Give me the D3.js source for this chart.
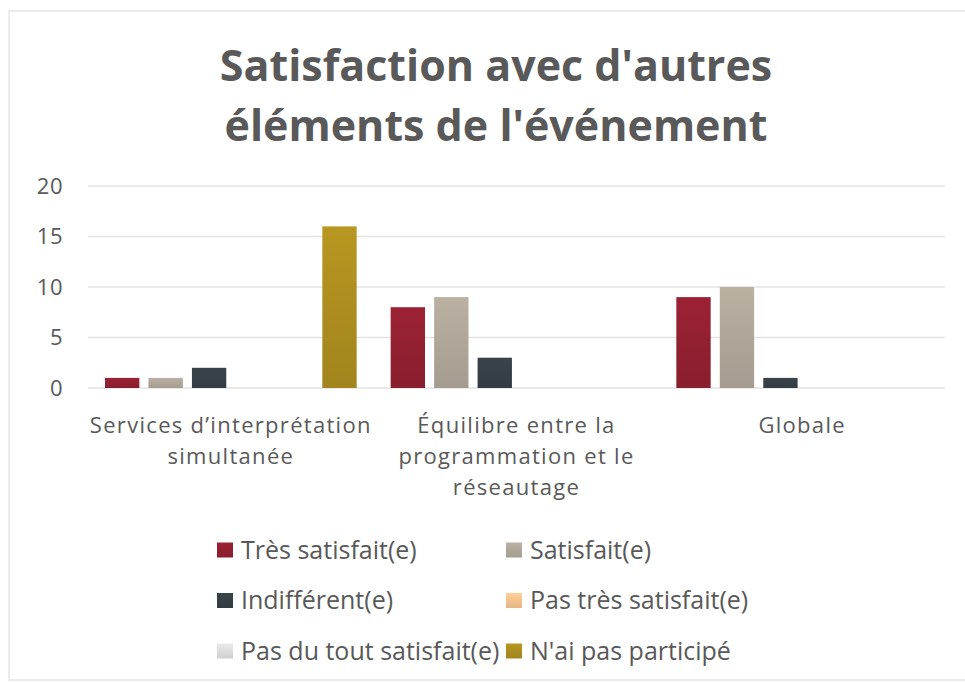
<!DOCTYPE html>
<html><head><meta charset="utf-8">
<script src="https://cdn.jsdelivr.net/npm/d3@7"></script>
<style>body{margin:0;background:#fff;} svg{display:block;}</style>
</head><body>
<svg id="chart" width="965" height="683"></svg>
<script>
(function(){
const titleLines = ["Satisfaction avec d'autres", "éléments de l'événement"];
const categories = [
  ["Services d’interprétation", "simultanée"],
  ["Équilibre entre la", "programmation et le", "réseautage"],
  ["Globale"]
];
const seriesNames = ["Très satisfait(e)", "Satisfait(e)", "Indifférent(e)", "Pas très satisfait(e)", "Pas du tout satisfait(e)", "N'ai pas participé"];
const seriesColors = ["#8e1f30", "#aaa295", "#343e44", "#ecbd8a", "#d6d6d6", "#a8891e"];
const values = [
  [1, 8, 9],
  [1, 9, 10],
  [2, 3, 1],
  [0, 0, 0],
  [0, 0, 0],
  [16, 0, 0]
];
const yTicks = [0, 5, 10, 15, 20];

const svg = d3.select("#chart");
const font = "'Open Sans', sans-serif";
const textCol = "#595959";

svg.append("rect").attr("x", 9).attr("y", 11).attr("width", 965).attr("height", 669)
  .attr("fill", "none").attr("stroke", "#e6e6e6").attr("stroke-width", 1.5);

const defs = svg.append("defs");
seriesColors.forEach((c, i) => {
  const g = defs.append("linearGradient").attr("id", "g" + i).attr("x1", 0).attr("y1", 0).attr("x2", 0).attr("y2", 1);
  g.append("stop").attr("offset", "0%").attr("stop-color", d3.color(c).brighter(0.25));
  g.append("stop").attr("offset", "100%").attr("stop-color", d3.color(c).darker(0.1));
});

svg.append("text").attr("x", 496).attr("text-anchor", "middle")
  .attr("font-family", "'Open Sans', sans-serif").attr("font-weight", 700).attr("font-size", 43)
  .attr("fill", textCol)
  .selectAll("tspan").data(titleLines).join("tspan")
  .attr("x", 496).attr("y", (d, i) => 81 + i * 60).text(d => d);

const pLeft = 88, pRight = 945, pTop = 186, pBottom = 388;
const y = d3.scaleLinear().domain([0, 20]).range([pBottom, pTop]);
const x0 = d3.scaleBand().domain(d3.range(categories.length)).range([pLeft, pRight]).paddingInner(0).paddingOuter(0);
const x1 = d3.scaleBand().domain(d3.range(seriesNames.length)).range([17, x0.bandwidth() - 17]).paddingInner(0.21).paddingOuter(0);

svg.append("g").selectAll("line").data(yTicks).join("line")
  .attr("x1", pLeft).attr("x2", pRight).attr("y1", d => y(d)).attr("y2", d => y(d))
  .attr("stroke", "#e3e3e3").attr("stroke-width", 1.5);

const yAxis = d3.axisLeft(y).tickValues(yTicks).tickSize(0).tickPadding(0);
const ya = svg.append("g").attr("transform", `translate(63,0)`).call(yAxis);
ya.select(".domain").remove();
ya.selectAll("text").attr("font-family", font).attr("font-size", 22).attr("letter-spacing", 0.5).attr("fill", textCol);

const groups = svg.append("g").selectAll("g").data(categories).join("g")
  .attr("transform", (d, i) => `translate(${x0(i)},0)`);
groups.selectAll("rect").data((d, ci) => seriesNames.map((s, si) => ({si, v: values[si][ci]})).filter(o => o.v > 0))
  .join("rect")
  .attr("x", d => x1(d.si)).attr("width", x1.bandwidth())
  .attr("y", d => y(d.v)).attr("height", d => y(0) - y(d.v))
  .attr("fill", d => `url(#g${d.si})`);

const xl = svg.append("g");
categories.forEach((lines, i) => {
  const t = xl.append("text").attr("text-anchor", "middle").attr("font-family", font)
    .attr("font-size", 22).attr("letter-spacing", 1.3).attr("fill", textCol);
  lines.forEach((ln, j) => {
    t.append("tspan").attr("x", x0(i) + x0.bandwidth() / 2).attr("y", 433 + j * 31).text(ln);
  });
});

const legPos = seriesNames.map((s, i) => ({x: i % 2 === 0 ? 217 : 506, y: 550 + Math.floor(i / 2) * 50.5}));
const lg = svg.append("g").selectAll("g").data(seriesNames).join("g")
  .attr("transform", (d, i) => `translate(${legPos[i].x},${legPos[i].y})`);
lg.append("rect").attr("x", 0).attr("y", -7.5).attr("width", 16).attr("height", 15)
  .attr("fill", (d, i) => `url(#g${i})`);
lg.append("text").attr("x", 24).attr("y", 8.5).attr("font-family", font).attr("font-size", 25)
  .attr("fill", textCol).text(d => d);
})();
</script>
</body></html>
